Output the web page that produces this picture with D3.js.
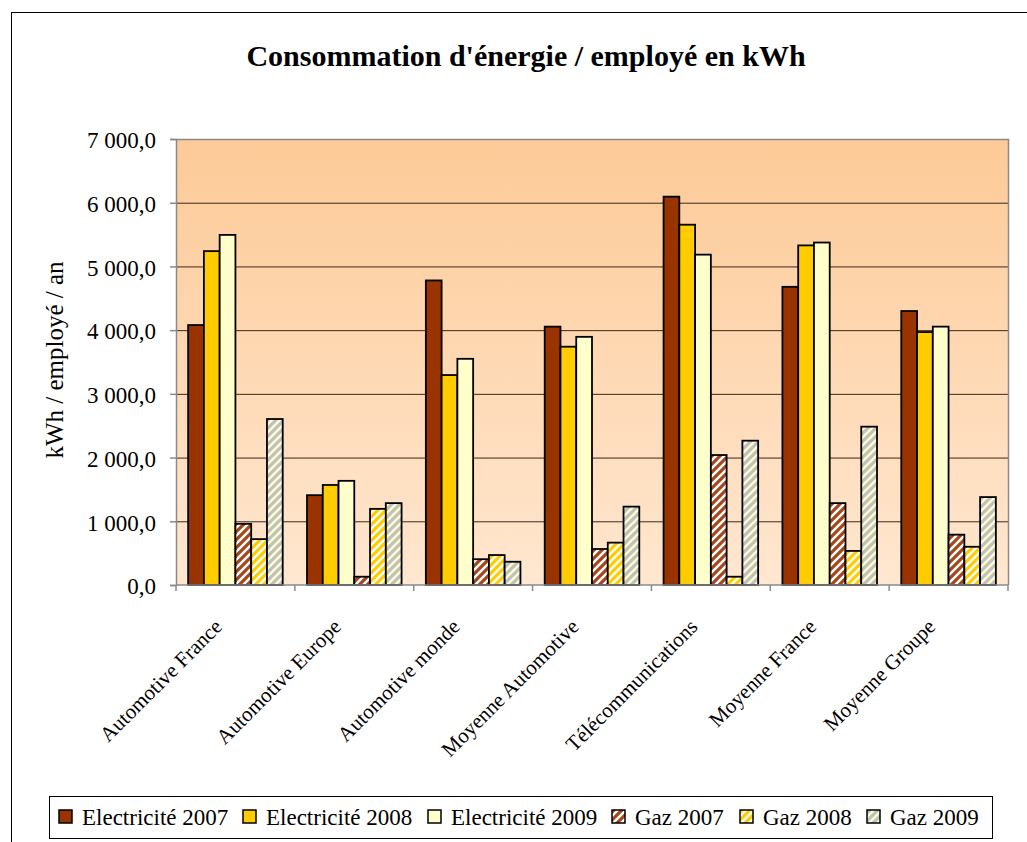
<!DOCTYPE html>
<html><head><meta charset="utf-8">
<script src="https://cdn.jsdelivr.net/npm/d3@7"></script>
<style>html,body{margin:0;padding:0;background:#fff;}svg{display:block;}</style>
</head><body>
<svg id="chart" width="1027" height="842"></svg>
<script>
const categories = ["Automotive France","Automotive Europe","Automotive monde","Moyenne Automotive","Télécommunications","Moyenne France","Moyenne Groupe"];
const seriesNames = ["Electricité 2007","Electricité 2008","Electricité 2009","Gaz 2007","Gaz 2008","Gaz 2009"];
const elec2007 = [4080, 1410, 4780, 4055, 6095, 4680, 4300];
const elec2008 = [5240, 1570, 3295, 3740, 5655, 5330, 3970];
const elec2009 = [5495, 1635, 3550, 3895, 5185, 5375, 4055];
const gaz2007  = [960, 130, 405, 565, 2040, 1285, 790];
const gaz2008  = [720, 1195, 470, 665, 130, 535, 600];
const gaz2009  = [2605, 1285, 365, 1230, 2265, 2485, 1380];
const yTicks = [0,1000,2000,3000,4000,5000,6000,7000];
const titleText = "Consommation d'énergie / employé en kWh";
const yTitle = "kWh / employé / an";

const seriesValues = [elec2007, elec2008, elec2009, gaz2007, gaz2008, gaz2009];
const fills = ["#993300","#FFCC00","#FFFFCC","url(#hG07)","url(#hG08)","url(#hG09)"];

const svg = d3.select("#chart");
const font = "'Liberation Serif','Times New Roman',serif";
const L = 176, R = 1008, T = 139, B = 585;

const defs = svg.append("defs");
const grad = defs.append("linearGradient").attr("id","bg").attr("x1",0).attr("y1",0).attr("x2",0).attr("y2",1);
grad.append("stop").attr("offset","0%").attr("stop-color","#FDCA97");
grad.append("stop").attr("offset","100%").attr("stop-color","#FFE7D0");

function hatch(id, bg, fg){
  const p = defs.append("pattern").attr("id",id).attr("patternUnits","userSpaceOnUse")
    .attr("width",8).attr("height",8);
  p.append("rect").attr("width",8).attr("height",8).attr("fill",bg);
  p.append("path").attr("d","M-2,2 L2,-2 M0,8 L8,0 M6,10 L10,6")
    .attr("stroke",fg).attr("stroke-width",3.2);
}
hatch("hG07","#FFFFFF","#A8451A");
hatch("hG08","#FFFFFF","#FFCC00");
hatch("hG09","#FFFFCC","#C0C0C0");

// outer chart border
svg.append("rect").attr("x",11.5).attr("y",12.5).attr("width",1200).attr("height",1000)
  .attr("fill","#fff").attr("stroke","#000").attr("stroke-width",1);

const x0 = d3.scaleBand().domain(categories).range([L,R]).padding(0);
const x1 = d3.scaleBand().domain(d3.range(6)).range([0,x0.bandwidth()]).paddingInner(0).paddingOuter(0.77);
const y = d3.scaleLinear().domain([0,7000]).range([B,T]);

svg.append("rect").attr("x",L).attr("y",T).attr("width",R-L).attr("height",B-T).attr("fill","url(#bg)");

// gridlines
svg.append("g").selectAll("line").data(yTicks.filter(v=>v>0 && v<7000)).join("line")
  .attr("x1",L).attr("x2",R).attr("y1",d=>y(d)+0.5).attr("y2",d=>y(d)+0.5)
  .attr("stroke","#3a2a1c").attr("stroke-width",1);

// plot border top/right
svg.append("path").attr("d",`M${L},${T+0.5} H${R+0.5} V${B}`).attr("fill","none").attr("stroke","#8a8a8a").attr("stroke-width",1.5);

// bars
const g = svg.append("g");
seriesValues.forEach((vals, si) => {
  g.append("g").selectAll("rect").data(vals).join("rect")
    .attr("x",(d,i)=>x0(categories[i]) + x1(si))
    .attr("width",x1.bandwidth())
    .attr("y",d=>y(d))
    .attr("height",d=>B - y(d))
    .attr("fill",fills[si])
    .attr("stroke","#000").attr("stroke-width",1.8);
});

// y axis
const fr = d3.formatLocale({decimal:",", thousands:"\u00a0", grouping:[3], currency:["","€"]});
const yAxis = d3.axisLeft(y).tickValues(yTicks).tickFormat(fr.format(",.1f")).tickSize(6).tickPadding(14);
const ya = svg.append("g").attr("transform",`translate(${L},0)`).call(yAxis);
ya.select(".domain").attr("stroke","#8a8a8a").attr("stroke-width",1.5);
ya.selectAll(".tick line").attr("stroke","#8a8a8a").attr("stroke-width",1.5);
ya.selectAll(".tick text").attr("font-family",font).attr("font-size",23).attr("fill","#000").attr("dy","0.38em");

// x axis
const xa = svg.append("g").attr("transform",`translate(0,${B})`);
xa.append("line").attr("x1",L).attr("x2",R).attr("stroke","#8a8a8a").attr("stroke-width",1.5);
xa.selectAll(".xt").data(d3.range(categories.length+1)).join("line")
  .attr("x1",i=>i<categories.length ? x0(categories[i]) : R)
  .attr("x2",i=>i<categories.length ? x0(categories[i]) : R)
  .attr("y1",0).attr("y2",6).attr("stroke","#8a8a8a").attr("stroke-width",1.5);
xa.selectAll("text").data(categories).join("text")
  .attr("transform",d=>`translate(${x0(d)+x0.bandwidth()/2-12},43) rotate(-45)`)
  .attr("text-anchor","end").attr("font-family",font).attr("font-size",21).attr("fill","#000")
  .text(d=>d);

// titles
svg.append("text").attr("x",526).attr("y",66).attr("text-anchor","middle")
  .attr("font-family",font).attr("font-weight","bold").attr("font-size",30).text(titleText);
svg.append("text").attr("transform","translate(63,360) rotate(-90)").attr("text-anchor","middle")
  .attr("font-family",font).attr("font-size",25).text(yTitle);

// legend
const leg = svg.append("g");
leg.append("rect").attr("x",49.5).attr("y",796.5).attr("width",943).attr("height",42)
  .attr("fill","#fff").attr("stroke","#000").attr("stroke-width",1);
const legX = [59, 243, 428, 612, 740, 867];
seriesNames.forEach((n,i)=>{
  leg.append("rect").attr("x",legX[i]).attr("y",810).attr("width",13).attr("height",13)
    .attr("fill",fills[i]).attr("stroke","#000").attr("stroke-width",1.5);
  leg.append("text").attr("x",legX[i]+23).attr("y",825).attr("font-family",font).attr("font-size",23).text(n);
});
</script>
</body></html>
